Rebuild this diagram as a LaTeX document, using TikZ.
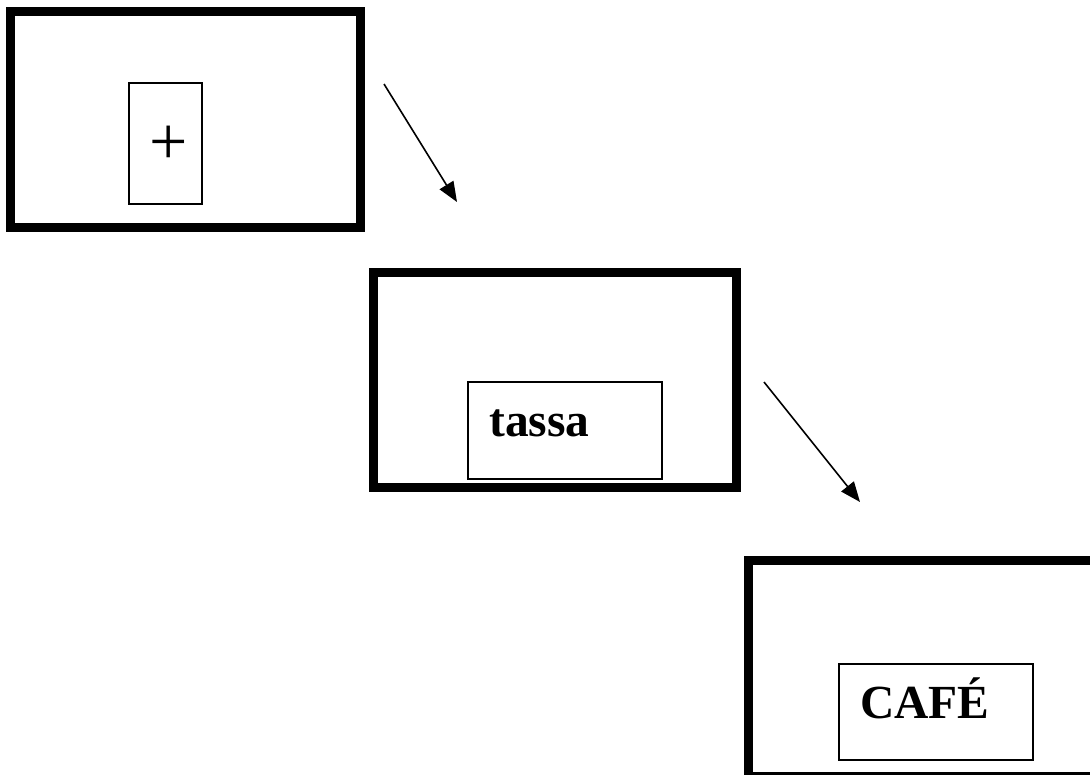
\documentclass[tikz,border=0pt]{standalone}
\usepackage{fontspec}
\newfontfamily\tnr{Liberation Serif}
\usetikzlibrary{arrows.meta}
\tikzset{
  frame/.style={draw=black, line width=9pt, rectangle, inner sep=0pt},
  inbox/.style={draw=black, line width=1.3pt, rectangle, inner sep=0pt},
  word/.style={inner sep=0pt, font=\tnr\bfseries\fontsize{47.5}{52}\selectfont},
  plus/.style={inner sep=0pt, font=\tnr\fontsize{68}{72}\selectfont},
  arr/.style={line width=1.6pt, -{Triangle[length=20pt,width=16pt]}}
}
\begin{document}
\begin{tikzpicture}[x=1pt,y=-1pt]
\useasboundingbox (0,0) rectangle (1090,774);
\clip (0,0) rectangle (1090,774);
\fill[white] (0,0) rectangle (1090,774);
% screen 1
\node[frame, minimum width=349.5pt, minimum height=215.5pt] (s1) at (185.25,119.25) {};
\node[inbox, minimum width=73pt, minimum height=121pt] (b1) at (165.5,143.5) {};
\node[plus] (p1) at (169,145.5) {+};
% screen 2
\node[frame, minimum width=363pt, minimum height=215pt] (s2) at (554.5,379.5) {};
\node[inbox, minimum width=194pt, minimum height=97pt] (b2) at (565,430.5) {};
\node[word, anchor=base west] (t2) at (489,436) {tassa};
% screen 3
\node[frame, minimum width=363pt, minimum height=216pt] (s3) at (929.5,668) {};
\node[inbox, minimum width=194pt, minimum height=96pt] (b3) at (936,712) {};
\node[word, anchor=base west] (t3) at (860,718) {CAFÉ};
% arrows
\coordinate (a1s) at (384,84);
\coordinate (a1e) at (457,202);
\coordinate (a2s) at (764,382);
\coordinate (a2e) at (860,502);
\draw[arr] (a1s) -- (a1e);
\draw[arr] (a2s) -- (a2e);
\end{tikzpicture}
\end{document}
